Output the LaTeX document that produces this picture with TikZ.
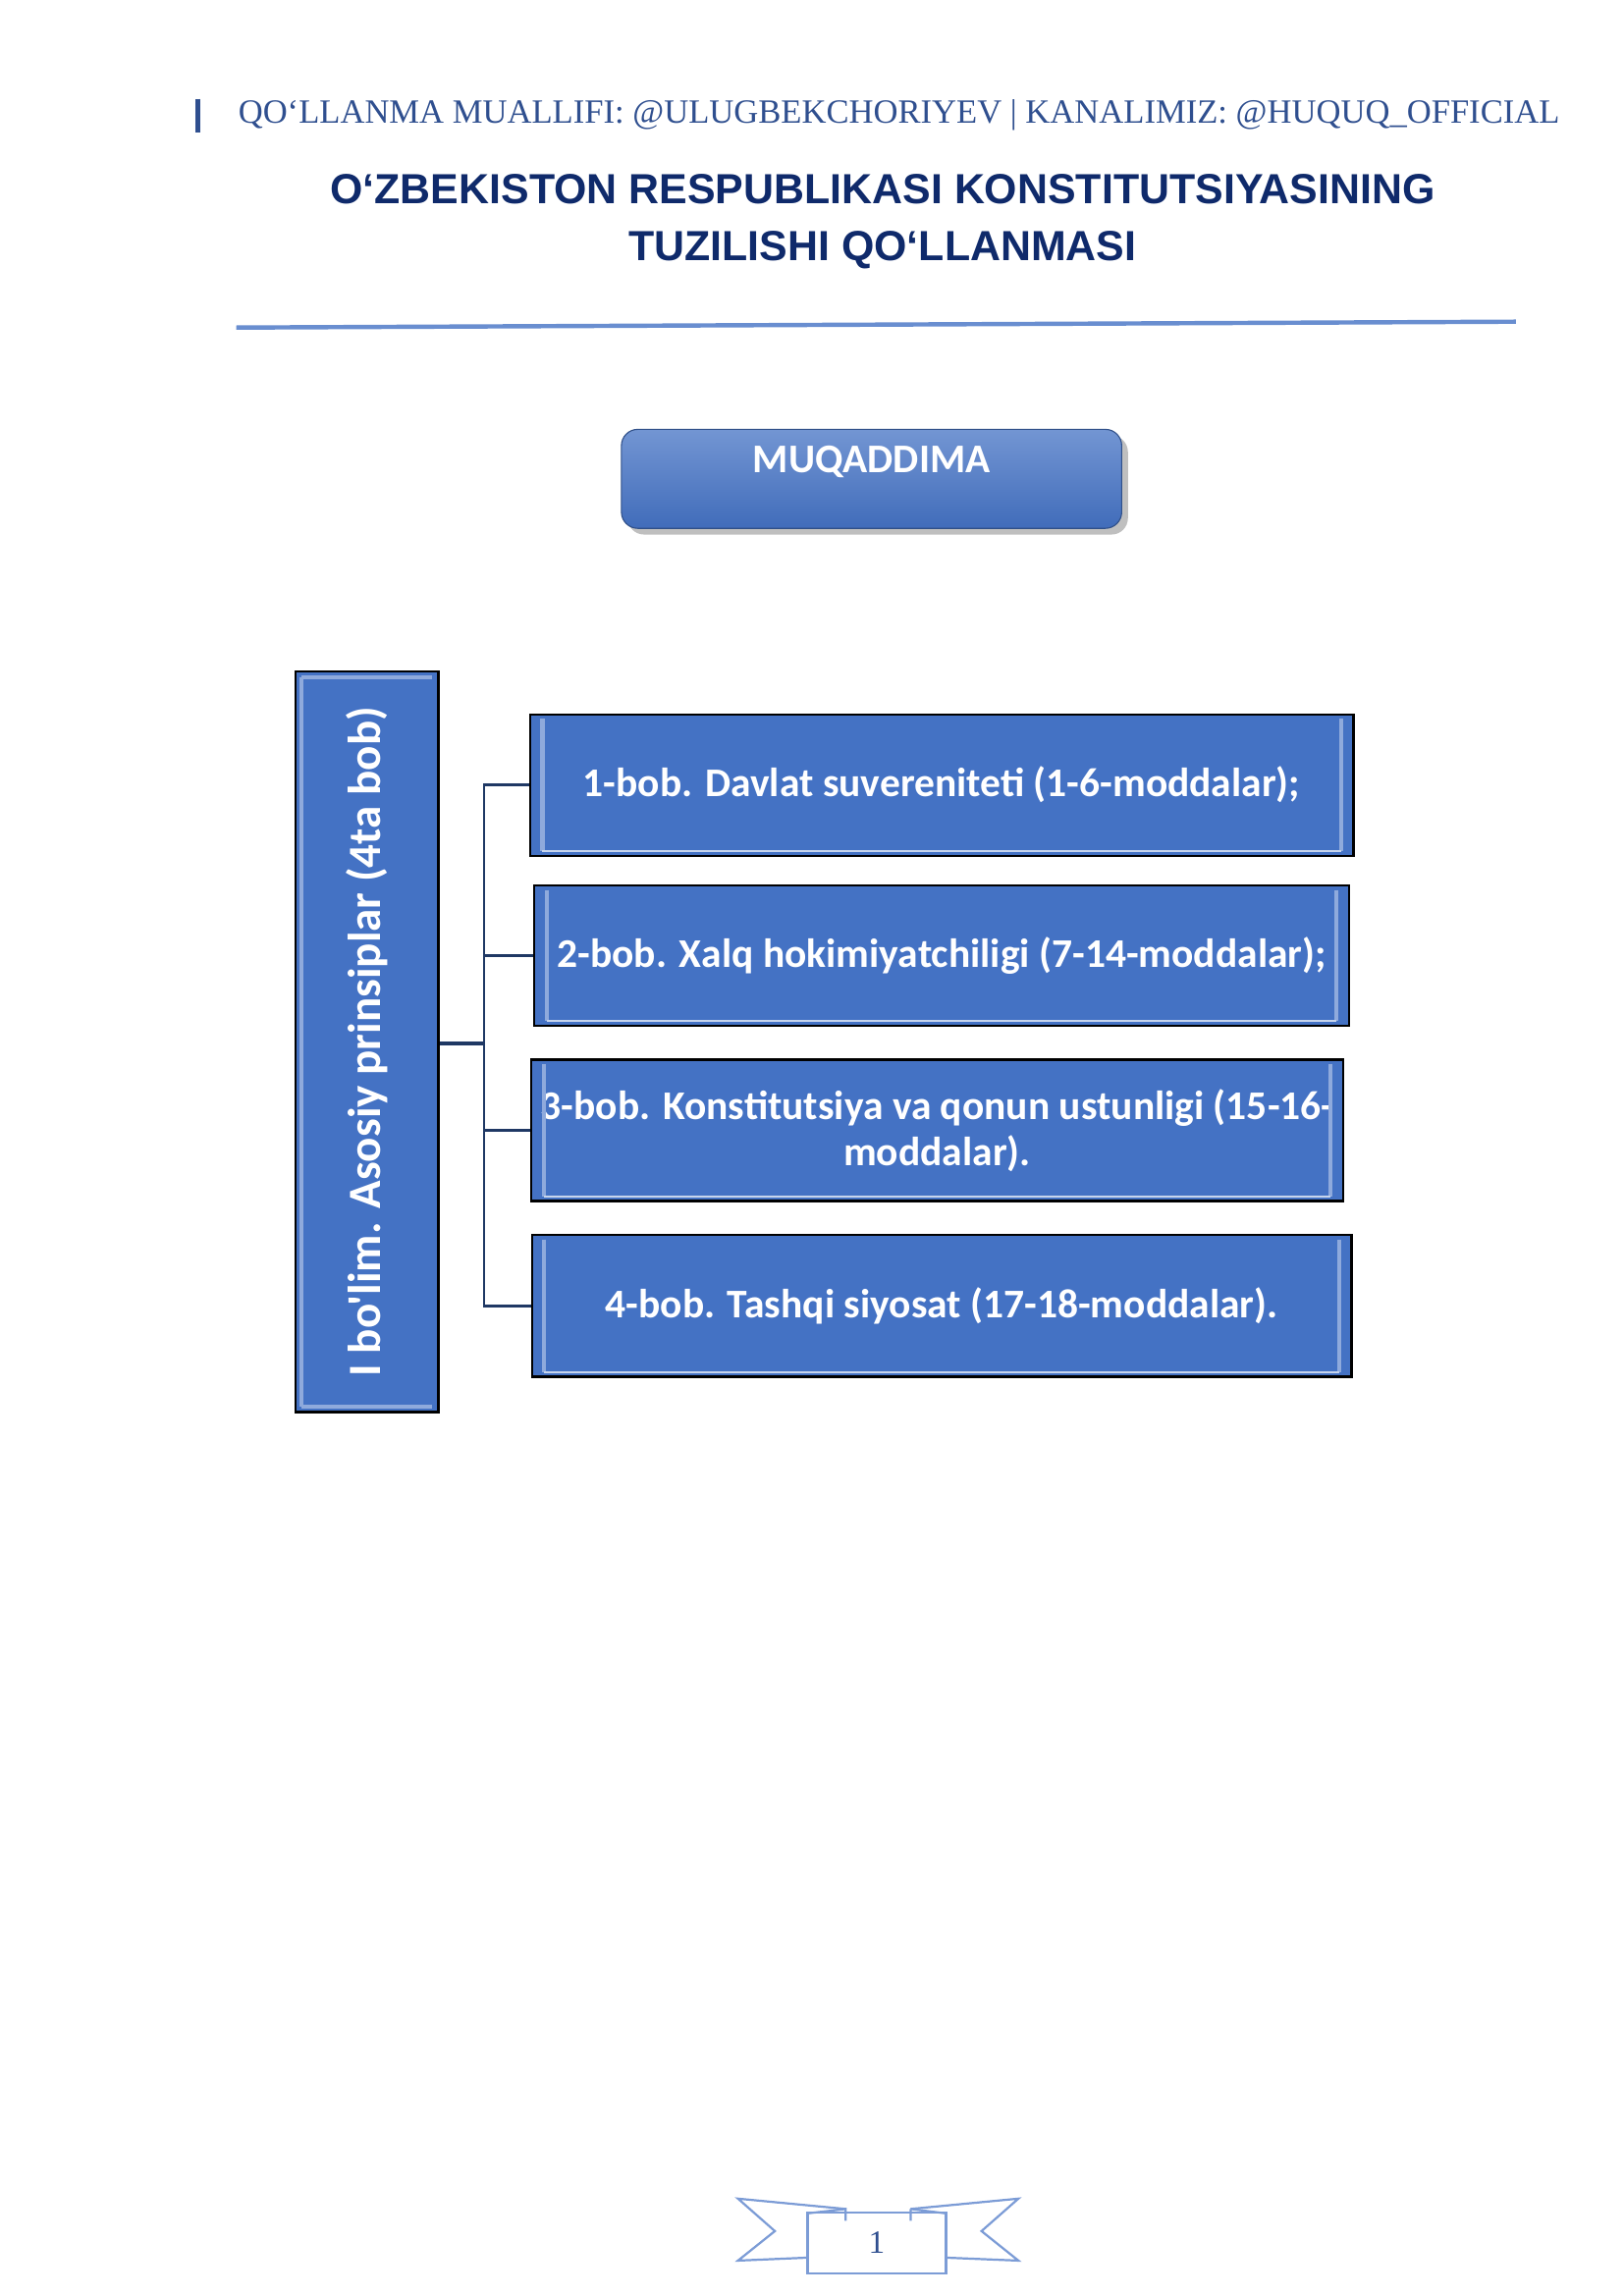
\documentclass[tikz,border=0pt]{standalone}
\usepackage{fontspec}
\setmainfont{Liberation Serif}
\newfontfamily\calfont{Carlito}
\newfontfamily\ars{Liberation Sans}
\usetikzlibrary{shadows}
\definecolor{hdr}{HTML}{2F4F8F}
\definecolor{navy}{HTML}{0F2A6B}
\definecolor{bx}{HTML}{4472C4}
\definecolor{bxl}{HTML}{8FAADC}
\definecolor{ln}{HTML}{1F3864}
\begin{document}
\begin{tikzpicture}[x=0.019091cm,y=-0.019091cm,
  chap/.style={draw=black,fill=bx,line width=0.8pt,text=white,font=\calfont\bfseries\fontsize{15}{17}\selectfont,align=center,inner sep=0pt},
  conn/.style={draw=ln,line width=0.9pt}]
\useasboundingbox (0,0) rectangle (1100,1556);
% header
\draw[hdr,line width=1.5pt] (134,67) -- (134,90);
\node[text=hdr,anchor=west,font=\fontsize{12.5}{14}\selectfont] (hd) at (155,78) {QO‘LLANMA MUALLIFI: @ULUGBEKCHORIYEV | KANALIMIZ: @HUQUQ\_OFFICIAL};
\node[text=navy,font=\ars\bfseries\fontsize{15.5}{21}\selectfont,align=center] (tt) at (598,150) {O‘ZBEKISTON RESPUBLIKASI KONSTITUTSIYASINING\\TUZILISHI QO‘LLANMASI};
\draw[bx!80,line width=1.6pt] (160,222) -- (1027,218);
% muqaddima
\node[rounded corners=6pt,top color=bx!75,bottom color=bx!95!black,draw=bx!70!black,drop shadow,text=white,font=\calfont\bfseries\fontsize{15}{17}\selectfont,
  minimum width=6.47cm,minimum height=1.28cm,text depth=0.5cm,inner sep=0pt] (muq) at (590.5,324.5) {MUQADDIMA};
% left box
\node[chap,minimum width=1.85cm,minimum height=9.58cm] (lb) at (248.5,706) {};
\draw[bxl,line width=1.5pt] (204,459) -- (293,459) (204,953) -- (293,953) (204,459)--(204,953);
\node[text=white,font=\calfont\bfseries\fontsize{17}{19}\selectfont,rotate=90] at (248.5,706) {I bo'lim. Asosiy prinsiplar (4ta bob)};
% chapters
\node[chap,minimum width=10.65cm,minimum height=1.83cm] (c1) at (638,532) {1-bob. Davlat suvereniteti (1-6-moddalar);};
\node[chap,minimum width=10.54cm,minimum height=1.81cm] (c2) at (638,647.5) {2-bob. Xalq hokimiyatchiligi (7-14-moddalar);};
\node[chap,minimum width=10.5cm,minimum height=1.83cm] (c3) at (635,766) {3-bob. Konstitutsiya va qonun ustunligi (15-16-\\moddalar).};
\node[chap,minimum width=10.6cm,minimum height=1.83cm] (c4) at (638,885) {4-bob. Tashqi siyosat (17-18-moddalar).};
\foreach \n in {c1,c2,c3,c4}{
 \draw[bxl,line width=1.5pt] ([shift={(5pt,-2pt)}]\n.north west) -- ([shift={(5pt,2pt)}]\n.south west);
 \draw[bxl,line width=1.5pt] ([shift={(-5pt,-2pt)}]\n.north east) -- ([shift={(-5pt,2pt)}]\n.south east);
 \draw[white!70!bx,line width=0.8pt] ([shift={(5pt,2pt)}]\n.south west) -- ([shift={(-5pt,2pt)}]\n.south east);
}
% connectors
\coordinate (j) at (328,707);
\draw[conn,line width=1.5pt] (lb.east |- j) -- (j);
\draw[conn] (c1.west) -| (j) (c2.west) -| (j) (c3.west) -| (j) (c4.west) -| (j);
% footer ribbon
\draw[bx!70,line width=0.8pt] (573,1497) -- (500,1490) -- (525,1512) -- (500,1532) -- (547,1530);
\draw[bx!70,line width=0.8pt] (617,1497) -- (690,1490) -- (665,1512) -- (690,1532) -- (641,1530);
\draw[bx!70,line width=0.8pt] (547,1500) -- (573,1497) -- (573,1505) (617,1497) -- (641,1500) (617,1497)--(617,1505);
\node[draw=bx!70,line width=0.8pt,minimum width=1.79cm,minimum height=0.78cm,text=hdr,font=\fontsize{12}{14}\selectfont,inner sep=0pt] (pg) at (594,1520) {1};
\end{tikzpicture}
\end{document}
